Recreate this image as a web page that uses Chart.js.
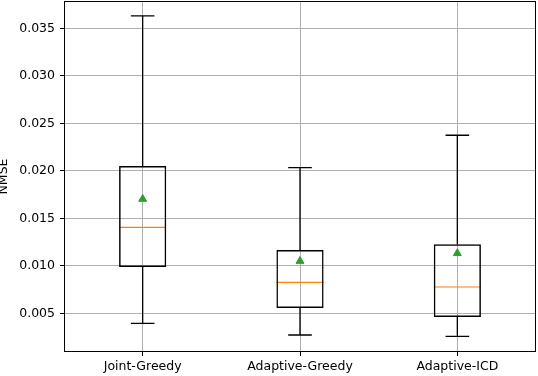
<!DOCTYPE html>
<html>
<head>
<meta charset="utf-8">
<script src="https://cdn.jsdelivr.net/npm/chart.js@4/dist/chart.umd.min.js"></script>
<style>
  body{ margin:0; background:#fff; }
  canvas{ display:block; }
</style>
</head>
<body>
<canvas id="chart" width="538" height="376"></canvas>
<script>
const categories = ['Joint-Greedy', 'Adaptive-Greedy', 'Adaptive-ICD'];
const whiskerLow  = [0.00395, 0.00272, 0.00258];
const q1          = [0.00987, 0.00556, 0.00461];
const median      = [0.01405, 0.00826, 0.00777];
const q3          = [0.0205, 0.01166, 0.01226];
const whiskerHigh = [0.0363, 0.02033, 0.02374];
const means       = [0.01703, 0.0105, 0.01132];
const yTicks      = [0.005, 0.010, 0.015, 0.020, 0.025, 0.030, 0.035];

Chart.defaults.font.family = '"DejaVu Sans", sans-serif';
Chart.defaults.font.size = 12.5;
Chart.defaults.color = '#000';

// whiskers, caps and medians, placed with the chart's own scales
const boxExtras = {
  id: 'boxExtras',
  beforeDatasetsDraw(chart){
    const ctx = chart.ctx, x = chart.scales.x, y = chart.scales.y;
    const step = x.getPixelForValue(1) - x.getPixelForValue(0);
    ctx.save();
    categories.forEach((c, i) => {
      const cx = x.getPixelForValue(i);
      const capHalf = step * 0.075, boxHalf = step * 0.15;
      ctx.strokeStyle = '#000';
      ctx.lineWidth = 1.3;
      ctx.beginPath();
      ctx.moveTo(cx, y.getPixelForValue(q3[i]));
      ctx.lineTo(cx, y.getPixelForValue(whiskerHigh[i]));
      ctx.moveTo(cx, y.getPixelForValue(q1[i]));
      ctx.lineTo(cx, y.getPixelForValue(whiskerLow[i]));
      const hi = y.getPixelForValue(whiskerHigh[i]), lo = y.getPixelForValue(whiskerLow[i]);
      ctx.moveTo(cx - capHalf, hi); ctx.lineTo(cx + capHalf, hi);
      ctx.moveTo(cx - capHalf, lo); ctx.lineTo(cx + capHalf, lo);
      ctx.stroke();
      ctx.strokeStyle = '#ff7f0e';
      ctx.lineWidth = 1.1;
      const m = y.getPixelForValue(median[i]);
      ctx.beginPath();
      ctx.moveTo(cx - boxHalf, m); ctx.lineTo(cx + boxHalf, m);
      ctx.stroke();
    });
    ctx.restore();
  },
  afterDraw(chart){
    const a = chart.chartArea, ctx = chart.ctx;
    ctx.save();
    ctx.strokeStyle = '#000';
    ctx.lineWidth = 1;
    ctx.strokeRect(Math.round(a.left) + 0.5, Math.round(a.top) + 0.5, Math.round(a.right - a.left) - 1, Math.round(a.bottom - a.top) - 1);
    ctx.restore();
  }
};

new Chart(document.getElementById('chart'), {
  type: 'bar',
  data: {
    labels: categories,
    datasets: [
      {
        type: 'line',
        data: means,
        showLine: false,
        pointStyle: 'triangle',
        pointRadius: 4.6,
        pointBackgroundColor: '#2ca02c',
        pointBorderColor: '#2ca02c',
        pointBorderWidth: 1,
        order: 0
      },
      {
        data: categories.map((c, i) => [q1[i], q3[i]]),
        backgroundColor: 'rgba(0,0,0,0)',
        borderColor: '#000',
        borderWidth: 1.5,
        borderSkipped: false,
        barPercentage: 0.3,
        categoryPercentage: 1,
        order: 1
      }
    ]
  },
  options: {
    responsive: false,
    animation: false,
    layout: { autoPadding: false, padding: { top: 1, right: 2, left: 0, bottom: 0 } },
    plugins: { legend: { display: false }, tooltip: { enabled: false } },
    scales: {
      x: {
        offset: true,
        grid: { offset: false, color: '#b0b0b0', lineWidth: 1, tickColor: '#000', tickLength: 4 },
        border: { display: false },
        ticks: { padding: 3 },
        afterFit(s){ s.height = 24; s.paddingLeft = 0; s.paddingRight = 0; }
      },
      y: {
        min: 0.00093,
        max: 0.03787,
        afterBuildTicks(s){ s.ticks = yTicks.map(v => ({ value: v })); },
        grid: { color: '#b0b0b0', lineWidth: 1, tickColor: '#000', tickLength: 4 },
        border: { display: false },
        ticks: { padding: 5, callback: v => v.toFixed(3) },
        title: { display: true, text: 'NMSE', padding: { top: -3, bottom: 0 }, font: { lineHeight: 1 } },
        afterFit(s){ s.width = 64; s.paddingTop = 0; s.paddingBottom = 0; }
      }
    }
  },
  plugins: [boxExtras]
});
</script>
</body>
</html>
